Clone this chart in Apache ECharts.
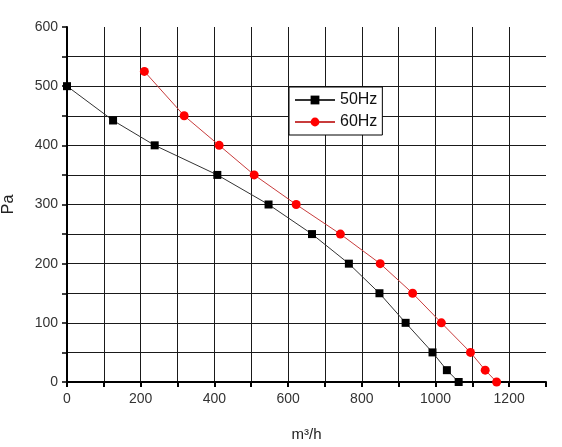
<!DOCTYPE html>
<html>
<head>
<meta charset="utf-8">
<script src="https://cdn.jsdelivr.net/npm/echarts@6/dist/echarts.min.js"></script>
<style>
  html, body { margin: 0; padding: 0; background: #fff; }
  #main { width: 562px; height: 447px; }
</style>
</head>
<body>
<div id="main"></div>
<script>
// 风量 (m3/h) 与 静压 (Pa)
var flow50 = [0, 125, 238, 408, 547, 665, 765, 848, 919, 992, 1031, 1063];
var pres50 = [500, 442, 400, 350, 300, 250, 200, 150, 100, 50, 20, 0];
var flow60 = [210, 318, 413, 508, 622, 742, 850, 938, 1016, 1095, 1135, 1166];
var pres60 = [525, 450, 400, 350, 300, 250, 200, 150, 100, 50, 20, 0];

function pairs(xs, ys) {
    var out = [];
    for (var i = 0; i < xs.length; i++) out.push([xs[i], ys[i]]);
    return out;
}

var myChart = echarts.init(document.getElementById('main'));
var option = {
    animation: false,
    textStyle: { fontFamily: 'Liberation Sans, Arial, sans-serif' },
    grid: { left: 67, right: 16, top: 27, bottom: 65, outerBoundsMode: 'none', containLabel: false },
    legend: {
        orient: 'vertical',
        left: 289,
        top: 87,
        borderColor: '#000',
        borderWidth: 1,
        backgroundColor: '#fff',
        padding: [5, 5, 5, 5],
        itemGap: 6,
        itemWidth: 40,
        itemHeight: 11,
        textStyle: { fontSize: 16, color: '#111' },
        data: ['50Hz', '60Hz']
    },
    xAxis: {
        type: 'value',
        min: 0, max: 1300, interval: 100,
        name: 'm³/h',
        nameLocation: 'middle',
        nameGap: 45,
        nameTextStyle: { fontSize: 15, color: '#222' },
        axisLine: { lineStyle: { color: '#000', width: 2 } },
        axisTick: { length: 5, lineStyle: { color: '#000', width: 2 } },
        axisLabel: {
            fontSize: 14, color: '#333', margin: 10,
            formatter: function (v) { return v % 200 === 0 ? v : ''; }
        },
        splitLine: { show: true, showMaxLine: false, lineStyle: { color: '#1a1a1a', width: 1 } }
    },
    yAxis: {
        type: 'value',
        min: 0, max: 600, interval: 50,
        name: 'Pa',
        nameLocation: 'middle',
        nameGap: 50,
        nameTextStyle: { fontSize: 16, color: '#222' },
        axisLine: { show: true, lineStyle: { color: '#000', width: 2 } },
        axisTick: { show: true, length: 5, lineStyle: { color: '#000', width: 1.5 } },
        axisLabel: {
            fontSize: 14, color: '#333', margin: 9,
            formatter: function (v) { return v % 100 === 0 ? v : ''; }
        },
        splitLine: { show: true, showMaxLine: false, lineStyle: { color: '#1a1a1a', width: 1 } }
    },
    series: [{
        name: '50Hz',
        type: 'line',
        data: pairs(flow50, pres50),
        symbol: 'rect',
        symbolSize: 8,
        itemStyle: { color: '#000' },
        lineStyle: { color: '#333', width: 1 },
        z: 3
    }, {
        name: '60Hz',
        type: 'line',
        data: pairs(flow60, pres60),
        symbol: 'circle',
        symbolSize: 9,
        itemStyle: { color: '#ff0000' },
        lineStyle: { color: '#c83c3c', width: 1 },
        z: 3
    }]
};
myChart.setOption(option);
</script>
</body>
</html>
